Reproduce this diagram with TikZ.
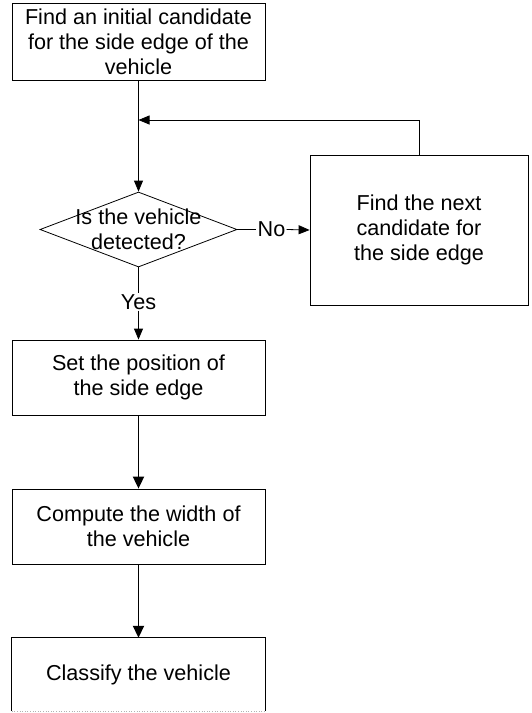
\documentclass[tikz,border=0pt]{standalone}
\usepackage{fontspec}
\setmainfont{Liberation Sans}
\usetikzlibrary{arrows.meta,shapes.geometric}
\tikzset{
  txt/.style={font=\fontsize{21.6}{25}\selectfont},
  stepbox/.style={draw, line width=0.8pt, minimum width=253pt, inner sep=0pt,
    align=center, txt},
  decbox/.style={draw, diamond, line width=0.8pt, minimum width=197pt, minimum height=75pt, inner sep=0pt},
  lbl/.style={inner sep=1pt, txt},
  thinflow/.style={line width=0.8pt, -{Triangle[length=11pt,width=9pt]}},
  thickflow/.style={line width=1.8pt, -{Triangle[length=12pt,width=11pt]}},
  plainline/.style={line width=0.8pt}
}
\begin{document}
\begin{tikzpicture}[x=1pt,y=-1pt]
  \useasboundingbox (0,0) rectangle (531,713);
  % process steps
  \node[stepbox, minimum height=77pt] (start) at (138.5,41.5)
    {Find an initial candidate\\for the side edge of the\\vehicle};
  \node[decbox] (dec) at (138.5,229.5) {};
  \node[align=center, inner sep=0pt, txt] (dectext) at (138.5,229.5)
    {Is the vehicle\\detected?};
  \node[stepbox, minimum width=218pt, minimum height=150pt] (next) at (419,230)
    {Find the next\\candidate for\\the side edge};
  \node[stepbox, minimum height=75pt] (setpos) at (138.5,377.5)
    {Set the position of\\the side edge};
  \node[stepbox, minimum height=75pt] (width) at (138.5,526.5)
    {Compute the width of\\the vehicle};
  % last step, running off the lower edge
  \node[minimum width=253pt, minimum height=73pt, inner sep=0pt, txt]
    (classify) at (138.5,674.5) {Classify the vehicle};
  \draw[plainline] (classify.south west) -- (classify.north west) -- (classify.north east) -- (classify.south east);
  \draw[line width=0.6pt, gray!60, dotted] (classify.south west) -- (classify.south east);
  % branch labels
  \node[lbl] (yes) at (138.5,302) {Yes};
  \node[lbl] (no) at (271.5,229.5) {No};
  % loop-back joint
  \coordinate (join) at (start.south |- 0,120);
  % connectors
  \draw[thinflow] (start.south) -- (dec.north);
  \draw[thinflow] (next.north) |- (join);
  \draw[plainline] (dec.east) -- (no.west);
  \draw[thinflow] (no.east) -- (next.west);
  \draw[plainline] (dec.south) -- (yes.north);
  \draw[thinflow] (yes.south) -- (setpos.north);
  \draw[thickflow] (setpos.south) -- (width.north);
  \draw[thickflow] (width.south) -- (classify.north);
\end{tikzpicture}
\end{document}
